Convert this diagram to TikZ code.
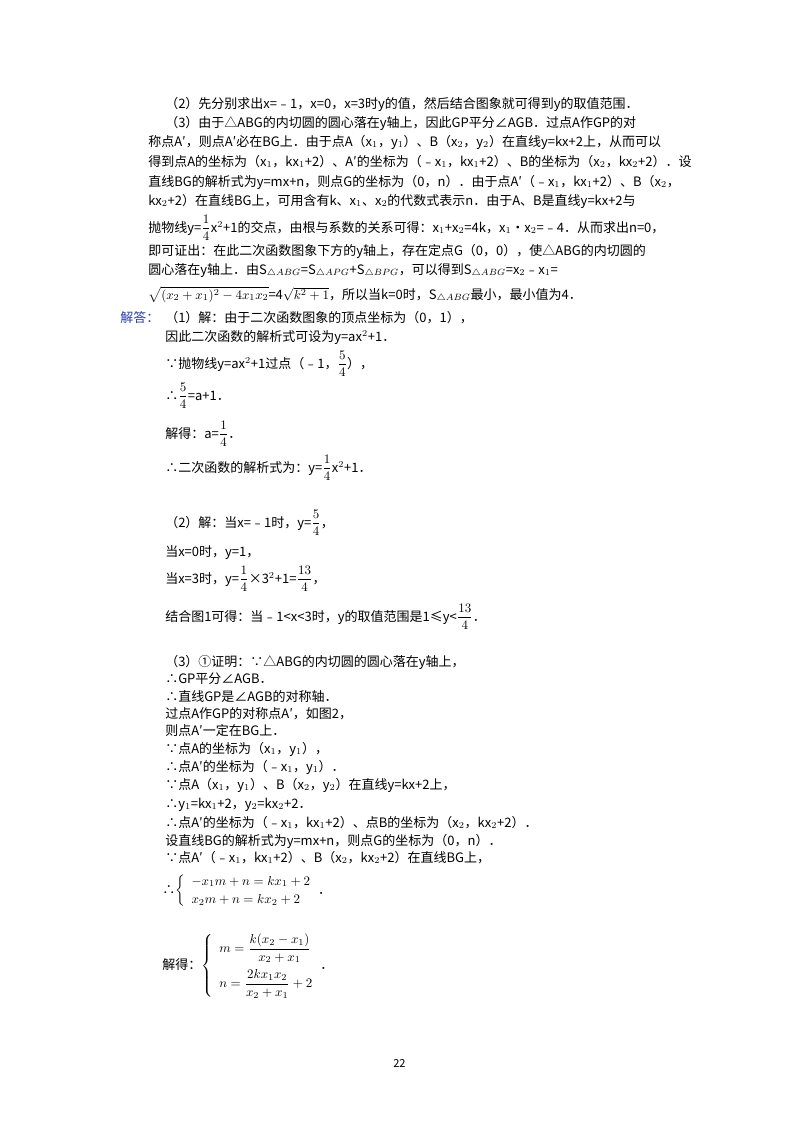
\documentclass[tikz,border=0pt]{standalone}
\usepackage{fontspec}
\usepackage{amsmath}
\setmainfont{Noto Sans CJK SC}
\begin{document}
\begin{tikzpicture}[x=1pt,y=-1pt,
  ln/.style={anchor=base west,inner sep=0pt,font=\fontsize{10}{12}\selectfont,scale=1.3,transform shape}]
\useasboundingbox (0,0) rectangle (800,1132);
\node[ln] (l1) at (165,108) {（2）先分别求出x=﹣1，x=0，x=3时y的值，然后结合图象就可得到y的取值范围．};
\node[ln] (l2) at (165,127) {（3）由于△ABG的内切圆的圆心落在y轴上，因此GP平分∠AGB．过点A作GP的对};
\node[ln] (l3) at (148,146) {称点A′，则点A′必在BG上．由于点A（x$_1$，y$_1$）、B（x$_2$，y$_2$）在直线y=kx+2上，从而可以};
\node[ln] (l4) at (148,166) {得到点A的坐标为（x$_1$，kx$_1$+2）、A′的坐标为（﹣x$_1$，kx$_1$+2）、B的坐标为（x$_2$，kx$_2$+2）．设};
\node[ln] (l5) at (148,186) {直线BG的解析式为y=mx+n，则点G的坐标为（0，n）．由于点A′（﹣x$_1$，kx$_1$+2）、B（x$_2$，};
\node[ln] (l6) at (148,205) {kx$_2$+2）在直线BG上，可用含有k、x$_1$、x$_2$的代数式表示n．由于A、B是直线y=kx+2与};
\node[ln] (l7) at (148,232) {抛物线y=$\dfrac{1}{4}$x$^2$+1的交点，由根与系数的关系可得：x$_1$+x$_2$=4k，x$_1$•x$_2$=﹣4．从而求出n=0，};
\node[ln] (l8) at (148,255) {即可证出：在此二次函数图象下方的y轴上，存在定点G（0，0），使△ABG的内切圆的};
\node[ln] (l9) at (148,274) {圆心落在y轴上．由S$_{\triangle ABG}$=S$_{\triangle APG}$+S$_{\triangle BPG}$，可以得到S$_{\triangle ABG}$=x$_2$﹣x$_1$=};
\node[ln] (l10) at (148,299) {$\sqrt{(x_2+x_1)^2-4x_1x_2}$=4$\sqrt{k^2+1}$，所以当k=0时，S$_{\triangle ABG}$最小，最小值为4．};
\node[ln,text={rgb,255:red,40;green,60;blue,170}] (jd) at (120,322) {解答：};
\node[ln] (a1) at (165,322) {（1）解：由于二次函数图象的顶点坐标为（0，1），};
\node[ln] (a2) at (165,341) {因此二次函数的解析式可设为y=ax$^2$+1．};
\node[ln] (a3) at (165,368) {∵抛物线y=ax$^2$+1过点（﹣1，$\dfrac{5}{4}$），};
\node[ln] (a4) at (165,400) {∴$\dfrac{5}{4}$=a+1．};
\node[ln] (a5) at (165,438) {解得：a=$\dfrac{1}{4}$．};
\node[ln] (a6) at (165,472) {∴二次函数的解析式为：y=$\dfrac{1}{4}$x$^2$+1．};
\node[ln] (b1) at (165,527) {（2）解：当x=﹣1时，y=$\dfrac{5}{4}$，};
\node[ln] (b2) at (165,556) {当x=0时，y=1，};
\node[ln] (b3) at (165,583) {当x=3时，y=$\dfrac{1}{4}$×3$^2$+1=$\dfrac{13}{4}$，};
\node[ln] (b4) at (165,621) {结合图1可得：当﹣1<x<3时，y的取值范围是1≤y<$\dfrac{13}{4}$．};
\node[ln] (c1) at (165,666) {（3）①证明：∵△ABG的内切圆的圆心落在y轴上，};
\node[ln] (c2) at (165,683) {∴GP平分∠AGB．};
\node[ln] (c3) at (165,701) {∴直线GP是∠AGB的对称轴．};
\node[ln] (c4) at (165,718) {过点A作GP的对称点A′，如图2，};
\node[ln] (c5) at (165,735) {则点A′一定在BG上．};
\node[ln] (c6) at (165,753) {∵点A的坐标为（x$_1$，y$_1$），};
\node[ln] (c7) at (165,771) {∴点A′的坐标为（﹣x$_1$，y$_1$）．};
\node[ln] (c8) at (165,789) {∵点A（x$_1$，y$_1$）、B（x$_2$，y$_2$）在直线y=kx+2上，};
\node[ln] (c9) at (165,808) {∴y$_1$=kx$_1$+2，y$_2$=kx$_2$+2．};
\node[ln] (c10) at (165,827) {∴点A′的坐标为（﹣x$_1$，kx$_1$+2）、点B的坐标为（x$_2$，kx$_2$+2）．};
\node[ln] (c11) at (165,845) {设直线BG的解析式为y=mx+n，则点G的坐标为（0，n）．};
\node[ln] (c12) at (165,862) {∵点A′（﹣x$_1$，kx$_1$+2）、B（x$_2$，kx$_2$+2）在直线BG上，};
\node[ln,anchor=west] (c13) at (162,891) {∴$\left\{\begin{array}{l}-x_1m+n=kx_1+2\\[2pt] x_2m+n=kx_2+2\end{array}\right.$．};
\node[ln,anchor=west] (c14) at (162,966) {解得：$\left\{\begin{array}{l}m=\dfrac{k(x_2-x_1)}{x_2+x_1}\\[10pt] n=\dfrac{2kx_1x_2}{x_2+x_1}+2\end{array}\right.$．};
\node[ln,font=\fontsize{8.5}{10}\selectfont] (pg) at (393,1067) {22};
\end{tikzpicture}
\end{document}
